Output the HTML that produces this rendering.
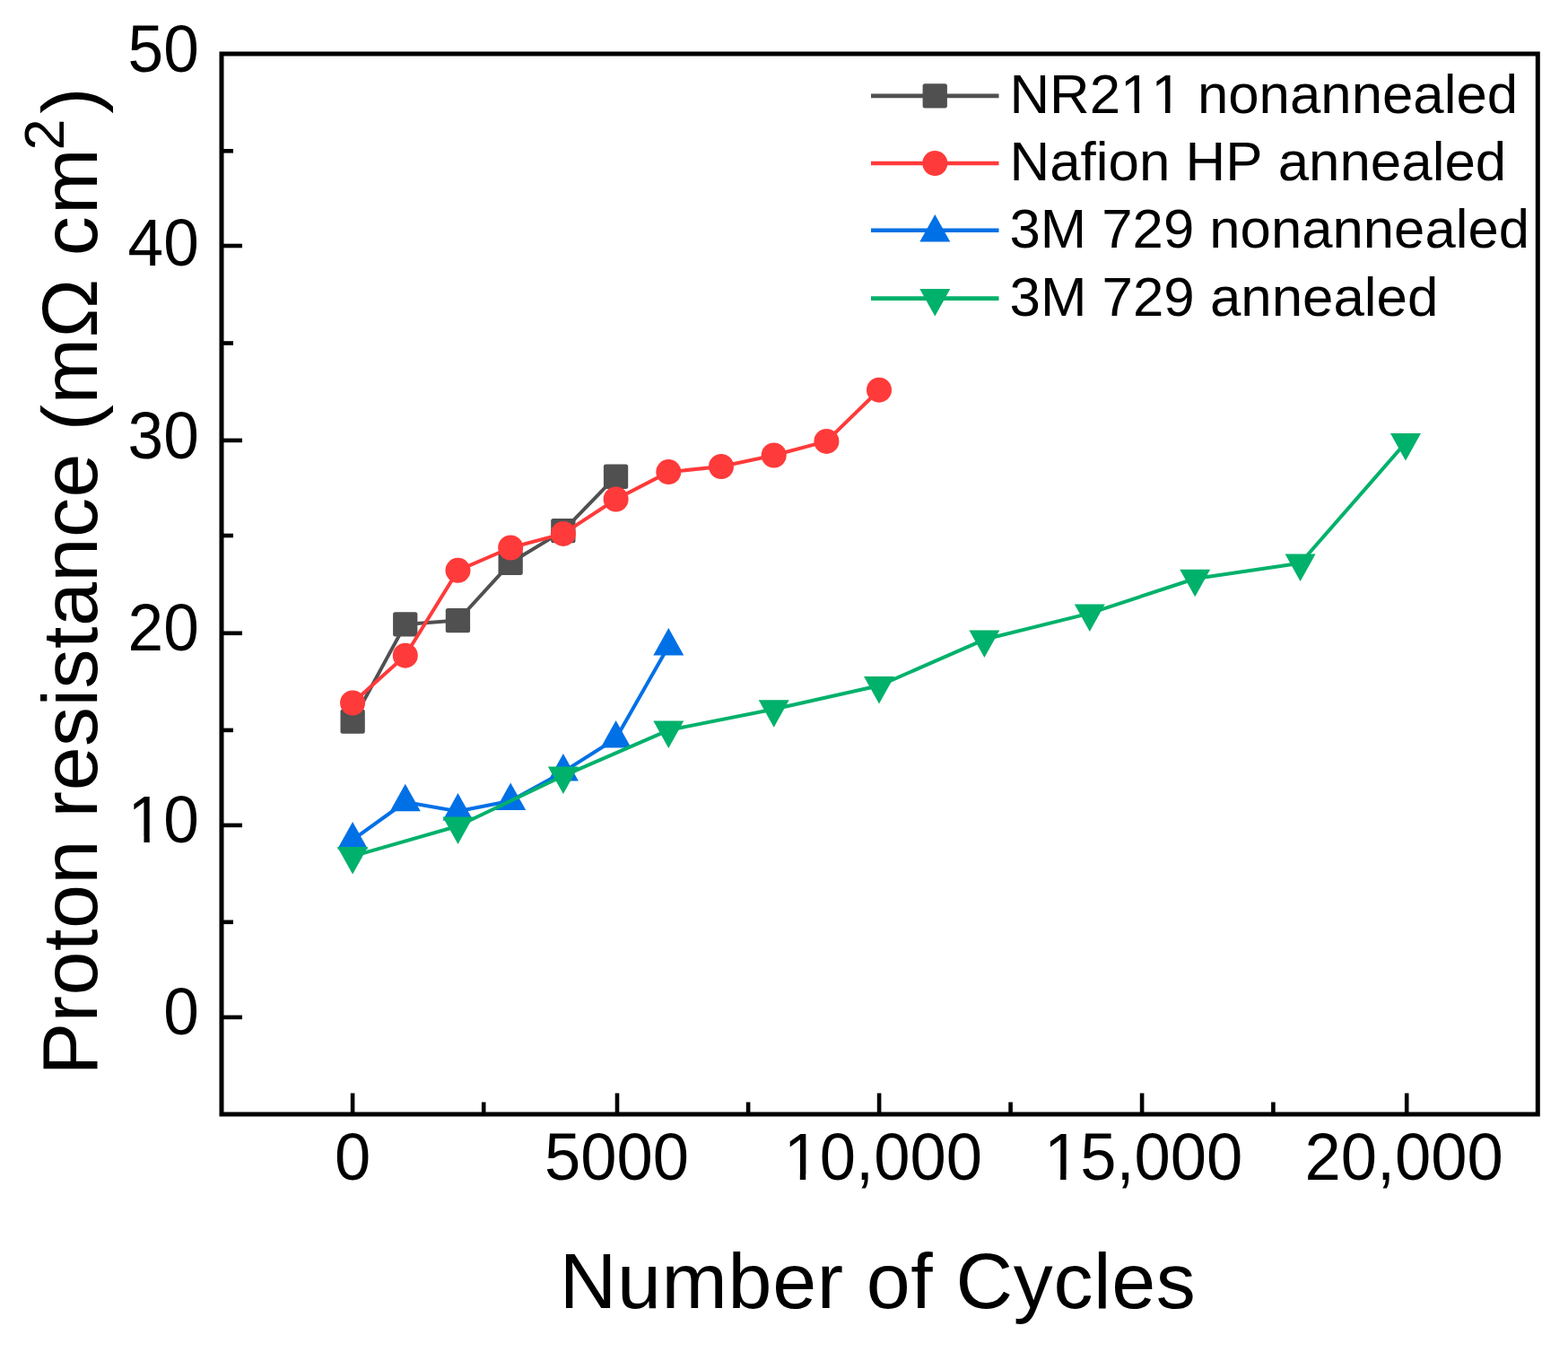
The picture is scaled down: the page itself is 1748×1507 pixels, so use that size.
<!DOCTYPE html>
<html><head><meta charset="utf-8"><title>Proton resistance vs Number of Cycles</title>
<style>html,body{margin:0;padding:0;background:#fff;}svg{display:block;}text{font-kerning:none;}</style></head>
<body><svg width="1748" height="1507" viewBox="0 0 1748 1507">
<rect width="1748" height="1507" fill="#fff"/>
<g><polyline points="393.1,804.0 451.8,695.9 510.5,691.5 569.2,627.3 627.9,591.6 686.6,531.2" fill="none" stroke="#505050" stroke-width="4.0" stroke-linejoin="round" stroke-linecap="round"/><rect x="379.5" y="790.4" width="27.3" height="27.3" rx="2.5" fill="#505050"/><rect x="438.1" y="682.2" width="27.3" height="27.3" rx="2.5" fill="#505050"/><rect x="496.8" y="677.9" width="27.3" height="27.3" rx="2.5" fill="#505050"/><rect x="555.5" y="613.6" width="27.3" height="27.3" rx="2.5" fill="#505050"/><rect x="614.2" y="578.0" width="27.3" height="27.3" rx="2.5" fill="#505050"/><rect x="672.9" y="517.6" width="27.3" height="27.3" rx="2.5" fill="#505050"/><polyline points="393.1,783.5 451.8,730.7 510.5,635.8 569.2,610.5 627.9,594.9 686.6,556.5 745.3,526.1 804.0,520.0 862.7,507.5 921.4,491.9 980.0,434.7" fill="none" stroke="#FF3A3A" stroke-width="4.0" stroke-linejoin="round" stroke-linecap="round"/><circle cx="393.1" cy="783.5" r="14.0" fill="#FF3A3A"/><circle cx="451.8" cy="730.7" r="14.0" fill="#FF3A3A"/><circle cx="510.5" cy="635.8" r="14.0" fill="#FF3A3A"/><circle cx="569.2" cy="610.5" r="14.0" fill="#FF3A3A"/><circle cx="627.9" cy="594.9" r="14.0" fill="#FF3A3A"/><circle cx="686.6" cy="556.5" r="14.0" fill="#FF3A3A"/><circle cx="745.3" cy="526.1" r="14.0" fill="#FF3A3A"/><circle cx="804.0" cy="520.0" r="14.0" fill="#FF3A3A"/><circle cx="862.7" cy="507.5" r="14.0" fill="#FF3A3A"/><circle cx="921.4" cy="491.9" r="14.0" fill="#FF3A3A"/><circle cx="980.0" cy="434.7" r="14.0" fill="#FF3A3A"/><polyline points="393.1,936.1 451.8,894.0 510.5,904.3 569.2,892.8 627.9,860.4 686.6,823.2 745.3,720.2" fill="none" stroke="#0070E6" stroke-width="4.0" stroke-linejoin="round" stroke-linecap="round"/><polygon points="393.1,915.9 410.1,946.4 376.1,946.4" fill="#0070E6"/><polygon points="451.8,873.8 468.8,904.2 434.8,904.2" fill="#0070E6"/><polygon points="510.5,884.0 527.5,914.5 493.5,914.5" fill="#0070E6"/><polygon points="569.2,872.5 586.2,903.0 552.2,903.0" fill="#0070E6"/><polygon points="627.9,840.1 644.9,870.6 610.9,870.6" fill="#0070E6"/><polygon points="686.6,803.0 703.6,833.5 669.6,833.5" fill="#0070E6"/><polygon points="745.3,700.0 762.3,730.5 728.3,730.5" fill="#0070E6"/><polyline points="393.1,954.3 510.5,920.7 627.9,864.8 745.3,813.8 862.7,790.5 980.0,764.3 1097.4,712.8 1214.8,683.6 1332.2,645.0 1449.6,627.8 1567.0,493.4" fill="none" stroke="#00B16B" stroke-width="4.0" stroke-linejoin="round" stroke-linecap="round"/><polygon points="376.1,944.0 410.1,944.0 393.1,974.5" fill="#00B16B"/><polygon points="493.5,910.5 527.5,910.5 510.5,941.0" fill="#00B16B"/><polygon points="610.9,854.5 644.9,854.5 627.9,885.0" fill="#00B16B"/><polygon points="728.3,803.5 762.3,803.5 745.3,834.0" fill="#00B16B"/><polygon points="845.7,780.2 879.7,780.2 862.7,810.8" fill="#00B16B"/><polygon points="963.0,754.0 997.0,754.0 980.0,784.5" fill="#00B16B"/><polygon points="1080.4,702.5 1114.4,702.5 1097.4,733.0" fill="#00B16B"/><polygon points="1197.8,673.4 1231.8,673.4 1214.8,703.9" fill="#00B16B"/><polygon points="1315.2,634.8 1349.2,634.8 1332.2,665.2" fill="#00B16B"/><polygon points="1432.6,617.5 1466.6,617.5 1449.6,648.0" fill="#00B16B"/><polygon points="1550.0,483.1 1584.0,483.1 1567.0,513.6" fill="#00B16B"/></g>
<g><rect x="247.0" y="60.0" width="1467.3" height="1182.0" fill="none" stroke="#000" stroke-width="5.0"/><line x1="247.0" y1="1133.9" x2="270.0" y2="1133.9" stroke="#000" stroke-width="4.6"/><line x1="247.0" y1="919.9" x2="270.0" y2="919.9" stroke="#000" stroke-width="4.6"/><line x1="247.0" y1="705.8" x2="270.0" y2="705.8" stroke="#000" stroke-width="4.6"/><line x1="247.0" y1="490.9" x2="270.0" y2="490.9" stroke="#000" stroke-width="4.6"/><line x1="247.0" y1="274.0" x2="270.0" y2="274.0" stroke="#000" stroke-width="4.6"/><line x1="247.0" y1="1027.8" x2="260.0" y2="1027.8" stroke="#000" stroke-width="4.6"/><line x1="247.0" y1="813.9" x2="260.0" y2="813.9" stroke="#000" stroke-width="4.6"/><line x1="247.0" y1="597.0" x2="260.0" y2="597.0" stroke="#000" stroke-width="4.6"/><line x1="247.0" y1="382.5" x2="260.0" y2="382.5" stroke="#000" stroke-width="4.6"/><line x1="247.0" y1="168.3" x2="260.0" y2="168.3" stroke="#000" stroke-width="4.6"/><line x1="393.1" y1="1242.0" x2="393.1" y2="1218.5" stroke="#000" stroke-width="4.6"/><line x1="688.0" y1="1242.0" x2="688.0" y2="1218.5" stroke="#000" stroke-width="4.6"/><line x1="980.1" y1="1242.0" x2="980.1" y2="1218.5" stroke="#000" stroke-width="4.6"/><line x1="1273.1" y1="1242.0" x2="1273.1" y2="1218.5" stroke="#000" stroke-width="4.6"/><line x1="1568.2" y1="1242.0" x2="1568.2" y2="1218.5" stroke="#000" stroke-width="4.6"/><line x1="539.2" y1="1242.0" x2="539.2" y2="1228.5" stroke="#000" stroke-width="4.6"/><line x1="834.1" y1="1242.0" x2="834.1" y2="1228.5" stroke="#000" stroke-width="4.6"/><line x1="1126.6" y1="1242.0" x2="1126.6" y2="1228.5" stroke="#000" stroke-width="4.6"/><line x1="1419.4" y1="1242.0" x2="1419.4" y2="1228.5" stroke="#000" stroke-width="4.6"/></g>
<g font-family="Liberation Sans, Arial, sans-serif" font-size="75" fill="#000"><g transform="translate(221.8 0) scale(0.95 1) translate(-221.8 0)"><text x="221.8" y="1153.1" text-anchor="end">0</text></g><g transform="translate(221.8 0) scale(0.95 1) translate(-221.8 0)"><text x="221.8" y="939.0" text-anchor="end">10</text><rect x="142.59" y="932.70" width="14.65" height="6.80" fill="#fff"/><rect x="163.87" y="932.70" width="14.06" height="6.80" fill="#fff"/></g><g transform="translate(221.8 0) scale(0.95 1) translate(-221.8 0)"><text x="221.8" y="725.1" text-anchor="end">20</text></g><g transform="translate(221.8 0) scale(0.95 1) translate(-221.8 0)"><text x="221.8" y="510.8" text-anchor="end">30</text></g><g transform="translate(221.8 0) scale(0.95 1) translate(-221.8 0)"><text x="221.8" y="296.2" text-anchor="end">40</text></g><g transform="translate(221.8 0) scale(0.95 1) translate(-221.8 0)"><text x="221.8" y="79.7" text-anchor="end">50</text></g><g transform="translate(393.1 0) scale(0.965 1) translate(-393.1 0)"><text x="393.1" y="1315.3" text-anchor="middle">0</text></g><g transform="translate(687.4 0) scale(0.965 1) translate(-687.4 0)"><text x="687.4" y="1315.3" text-anchor="middle">5000</text></g><g transform="translate(984.3 0) scale(0.965 1) translate(-984.3 0)"><text x="984.3" y="1315.3" text-anchor="middle">10,000</text><rect x="873.82" y="1309.00" width="14.65" height="6.80" fill="#fff"/><rect x="895.09" y="1309.00" width="14.06" height="6.80" fill="#fff"/></g><g transform="translate(1274.6 0) scale(0.965 1) translate(-1274.6 0)"><text x="1274.6" y="1315.3" text-anchor="middle">15,000</text><rect x="1164.12" y="1309.00" width="14.65" height="6.80" fill="#fff"/><rect x="1185.39" y="1309.00" width="14.06" height="6.80" fill="#fff"/></g><g transform="translate(1565.2 0) scale(0.965 1) translate(-1565.2 0)"><text x="1565.2" y="1315.3" text-anchor="middle">20,000</text></g></g>
<g font-family="Liberation Sans, Arial, sans-serif" font-size="62" fill="#000"><line x1="971" y1="106.9" x2="1113.5" y2="106.9" stroke="#505050" stroke-width="4.6"/><rect x="1028.6" y="93.2" width="27.3" height="27.3" rx="2.5" fill="#505050"/><g transform="translate(1129 0) scale(0.9964 1) translate(-1129 0)"><text x="1125.5" y="125.9">NR211 nonannealed</text><rect x="1252.75" y="120.57" width="12.37" height="5.83" fill="#fff"/><rect x="1270.60" y="120.57" width="11.88" height="5.83" fill="#fff"/><rect x="1287.23" y="120.57" width="12.37" height="5.83" fill="#fff"/><rect x="1305.08" y="120.57" width="11.88" height="5.83" fill="#fff"/></g><line x1="971" y1="182.0" x2="1113.5" y2="182.0" stroke="#FF3A3A" stroke-width="4.6"/><circle cx="1042.3" cy="182.0" r="14.0" fill="#FF3A3A"/><g transform="translate(1129 0) scale(0.998 1) translate(-1129 0)"><text x="1125.5" y="201.0">Nafion HP annealed</text></g><line x1="971" y1="256.8" x2="1113.5" y2="256.8" stroke="#0070E6" stroke-width="4.6"/><polygon points="1042.3,239.1 1059.3,269.6 1025.3,269.6" fill="#0070E6"/><g transform="translate(1129 0) scale(0.9948 1) translate(-1129 0)"><text x="1125.5" y="275.8">3M 729 nonannealed</text></g><line x1="971" y1="332.6" x2="1113.5" y2="332.6" stroke="#00B16B" stroke-width="4.6"/><polygon points="1025.3,321.9 1059.3,321.9 1042.3,352.4" fill="#00B16B"/><g transform="translate(1129 0) scale(0.9972 1) translate(-1129 0)"><text x="1125.5" y="351.6">3M 729 annealed</text></g></g>
<text x="623.8" y="1458.4" font-family="Liberation Sans, Arial, sans-serif" font-size="88" letter-spacing="0.65" fill="#000">Number of Cycles</text>
<text transform="translate(107.6 1198.4) rotate(-90)" font-family="Liberation Sans, Arial, sans-serif" font-size="88" letter-spacing="0.5" fill="#000">Proton resistance (m&#937; c<tspan dx="2">m</tspan><tspan font-size="63" dx="-2.4" dy="-37">2</tspan><tspan dx="5.0" dy="37">)</tspan></text>
</svg></body></html>
